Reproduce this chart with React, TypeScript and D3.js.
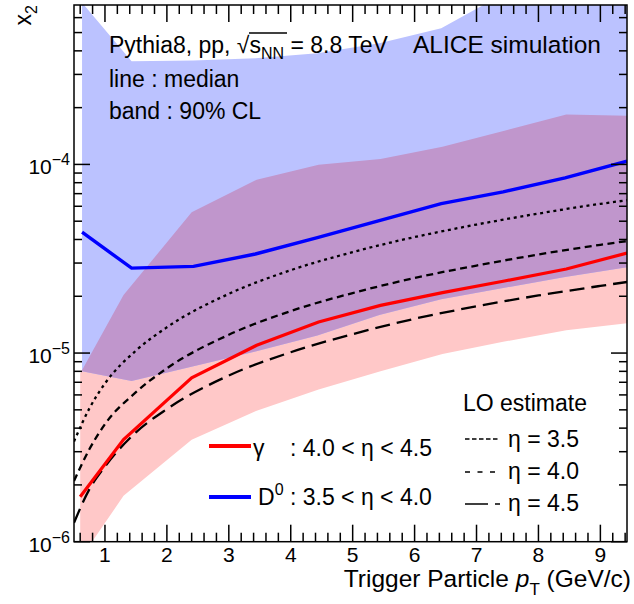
import React from "react";
import * as d3 from "d3";

// gamma (4.0 < eta < 4.5): median and 90% CL band
const GAMMA_PT = [0.6, 1.3, 2.4, 3.45, 4.45, 5.45, 6.45, 7.45, 8.45, 9.43];
const GAMMA_MED = [1.73e-6, 3.48e-6, 7.4e-6, 1.1e-5, 1.46e-5, 1.79e-5, 2.09e-5, 2.41e-5, 2.79e-5, 3.39e-5];
const GAMMA_LO = [8.1e-7, 1.75e-6, 3.47e-6, 4.95e-6, 6.4e-6, 8.0e-6, 9.9e-6, 1.15e-5, 1.32e-5, 1.44e-5];
const GAMMA_HI = [7.8e-6, 2.03e-5, 5.57e-5, 8.3e-5, 9.95e-5, 1.07e-4, 1.24e-4, 1.51e-4, 1.84e-4, 1.81e-4];

// D0 (3.5 < eta < 4.0)
const D0_PT = [0.63, 1.43, 2.43, 3.43, 4.43, 5.43, 6.43, 7.43, 8.43, 9.43];
const D0_MED = [4.37e-5, 2.82e-5, 2.88e-5, 3.35e-5, 4.09e-5, 5.04e-5, 6.2e-5, 7.15e-5, 8.49e-5, 1.04e-4];
const D0_LO = [8.0e-6, 7.1e-6, 8.5e-6, 1.02e-5, 1.24e-5, 1.59e-5, 1.93e-5, 2.21e-5, 2.53e-5, 2.85e-5];
const D0_HI = [7.2e-4, 3.52e-4, 3.56e-4, 3.65e-4, 3.88e-4, 4.39e-4, 5.27e-4, 8.0e-4, 1.0e-3, 1.0e-3];

// LO estimate curves
const LO_PT = [0.5, 0.75, 1, 1.5, 2, 3, 4, 5, 6, 7, 8, 9, 9.5];
const LO_ETA35 = [3.4e-6, 5.1e-6, 6.9e-6, 1.03e-5, 1.37e-5, 2.06e-5, 2.75e-5, 3.43e-5, 4.12e-5, 4.8e-5, 5.49e-5, 6.18e-5, 6.5e-5];
const LO_ETA40 = [2.1e-6, 3.1e-6, 4.2e-6, 6.2e-6, 8.3e-6, 1.25e-5, 1.67e-5, 2.08e-5, 2.5e-5, 2.91e-5, 3.33e-5, 3.75e-5, 3.95e-5];
const LO_ETA45 = [1.26e-6, 1.9e-6, 2.5e-6, 3.8e-6, 5.05e-6, 7.6e-6, 1.01e-5, 1.26e-5, 1.52e-5, 1.77e-5, 2.02e-5, 2.27e-5, 2.4e-5];

const X_TICKS = [1, 2, 3, 4, 5, 6, 7, 8, 9];
const Y_TICKS = [1e-6, 1e-5, 1e-4];
const Y_EXP = ["\u22126", "\u22125", "\u22124"];

const FONT = "'Liberation Sans', Arial, Helvetica, sans-serif";
const BLUE_BAND = "#bbc2ff";
const RED_BAND = "#ffc8c8";
const OVERLAP = "#c096cc";

const L = 74, R = 627, T = 5, B = 541.7;

const App = () => {
  const x = d3.scaleLinear().domain([0.5, 9.43]).range([L, R]);
  const y = d3.scaleLog().domain([1e-6, 7e-4]).range([B, T]);

  const band = (pt: number[], lo: number[], hi: number[]) =>
    d3
      .area<number>()
      .x((_, i) => x(pt[i]))
      .y0((_, i) => y(lo[i]))
      .y1((_, i) => y(hi[i]))(pt) as string;

  const line = (pt: number[], v: number[]) =>
    d3
      .line<number>()
      .x((_, i) => x(pt[i]))
      .y((_, i) => y(v[i]))(pt) as string;

  const smooth = (pt: number[], v: number[]) =>
    d3
      .line<number>()
      .x((_, i) => x(pt[i]))
      .y((_, i) => y(v[i]))
      .curve(d3.curveMonotoneX)(pt) as string;

  const gammaBand = band(GAMMA_PT, GAMMA_LO, GAMMA_HI);
  const d0Band = band(D0_PT, D0_LO, D0_HI);

  // minor ticks
  const xMinor: number[] = [];
  for (let v = 0.6; v < 9.43; v += 0.2) {
    const r = Math.round(v * 10) / 10;
    if (Math.abs(r - Math.round(r)) > 1e-6) xMinor.push(r);
  }
  const yMinor: number[] = [];
  for (let e = -6; e <= -4; e++) {
    for (let k = 2; k <= 9; k++) {
      const v = k * Math.pow(10, e);
      if (v < 7e-4) yMinor.push(v);
    }
  }

  return (
    <svg width={634} height={604} style={{ display: "block", position: "absolute", left: 0, top: 0 }}>
      <rect width={634} height={604} fill="#fff" />
      <defs>
        <clipPath id="plot">
          <rect x={L} y={T} width={R - L} height={B - T} />
        </clipPath>
        <clipPath id="d0band">
          <path d={d0Band} />
        </clipPath>
      </defs>

      <g clipPath="url(#plot)">
        <path d={gammaBand} fill={RED_BAND} />
        <path d={d0Band} fill={BLUE_BAND} />
        <g clipPath="url(#d0band)">
          <path d={gammaBand} fill={OVERLAP} />
        </g>

        <path d={smooth(LO_PT, LO_ETA35)} fill="none" stroke="#000" strokeWidth={2.3} strokeDasharray="3 3.7" />
        <path d={smooth(LO_PT, LO_ETA40)} fill="none" stroke="#000" strokeWidth={2.3} strokeDasharray="7 4.5" />
        <path d={smooth(LO_PT, LO_ETA45)} fill="none" stroke="#000" strokeWidth={2.3} strokeDasharray="15 7" />

        <path d={line(GAMMA_PT, GAMMA_MED)} fill="none" stroke="#ff0000" strokeWidth={3.2} />
        <path d={line(D0_PT, D0_MED)} fill="none" stroke="#0000ff" strokeWidth={3.4} />
      </g>

      {/* frame and ticks */}
      <g stroke="#000" strokeWidth={1.5}>
        <rect x={L} y={T} width={R - L} height={B - T} fill="none" />
        {X_TICKS.map((t) => (
          <g key={"xt" + t}>
            <line x1={x(t)} x2={x(t)} y1={B} y2={B - 17} />
            <line x1={x(t)} x2={x(t)} y1={T} y2={T + 17} />
          </g>
        ))}
        {xMinor.map((t) => (
          <g key={"xm" + t}>
            <line x1={x(t)} x2={x(t)} y1={B} y2={B - 9} />
            <line x1={x(t)} x2={x(t)} y1={T} y2={T + 9} />
          </g>
        ))}
        {Y_TICKS.map((t) => (
          <g key={"yt" + t}>
            <line x1={L} x2={L + 16} y1={y(t)} y2={y(t)} />
            <line x1={R} x2={R - 16} y1={y(t)} y2={y(t)} />
          </g>
        ))}
        {yMinor.map((t) => (
          <g key={"ym" + t}>
            <line x1={L} x2={L + 8} y1={y(t)} y2={y(t)} />
            <line x1={R} x2={R - 8} y1={y(t)} y2={y(t)} />
          </g>
        ))}
      </g>

      <g fontFamily={FONT} fill="#000">
        {X_TICKS.map((t) => (
          <text key={"xl" + t} x={x(t)} y={562} fontSize={21} textAnchor="middle">
            {t}
          </text>
        ))}
        {Y_TICKS.map((t, i) => (
          <text key={"yl" + t} x={70} y={y(t) + 10} fontSize={21} textAnchor="end">
            10
            <tspan fontSize={16} dy={-9}>
              {Y_EXP[i]}
            </tspan>
          </text>
        ))}

        <text x={631} y={587} fontSize={24.5} textAnchor="end">
          Trigger Particle{" "}
          <tspan fontStyle="italic">p</tspan>
          <tspan fontSize={17} dy={8}>
            T
          </tspan>
          <tspan dy={-8}> (GeV/c)</tspan>
        </text>

        <text transform={`translate(31, ${T}) rotate(-90)`} fontSize={23} textAnchor="end">
          x<tspan fontSize={16} dy={6}>2</tspan>
        </text>

        <text x={109} y={53} fontSize={23}>
          Pythia8, pp, √s
          <tspan fontSize={16} dy={6}>
            NN
          </tspan>
          <tspan dy={-6}> = 8.8 TeV</tspan>
        </text>
        <line x1={249} x2={287} y1={33} y2={33} stroke="#000" strokeWidth={1.3} />
        <text x={413} y={53} fontSize={24.5}>
          ALICE simulation
        </text>
        <text x={109} y={87} fontSize={23}>
          line : median
        </text>
        <text x={109} y={119} fontSize={23}>
          band : 90% CL
        </text>

        {/* median legend */}
        <line x1={209} x2={251} y1={446} y2={446} stroke="#ff0000" strokeWidth={4} />
        <line x1={209} x2={251} y1={497} y2={497} stroke="#0000ff" strokeWidth={4} />
        <text x={253} y={456} fontSize={23}>
          γ
        </text>
        <text x={290} y={456} fontSize={23}>
          : 4.0 &lt; η &lt; 4.5
        </text>
        <text x={258} y={505} fontSize={23}>
          D<tspan fontSize={16} dy={-10}>0</tspan>
          <tspan dy={10}> : 3.5 &lt; η &lt; 4.0</tspan>
        </text>

        {/* LO legend */}
        <text x={463} y={411} fontSize={23}>
          LO estimate
        </text>
        <line x1={465} x2={499} y1={439} y2={439} stroke="#000" strokeWidth={1.3} strokeDasharray="4.5 2.5" />
        <line x1={465} x2={499} y1={472} y2={472} stroke="#000" strokeWidth={1.3} strokeDasharray="5 7.5" />
        <line x1={465} x2={500} y1={504} y2={504} stroke="#000" strokeWidth={1.3} strokeDasharray="23 7 5 100" />
        <text x={508} y={447} fontSize={23}>
          η = 3.5
        </text>
        <text x={508} y={479} fontSize={23}>
          η = 4.0
        </text>
        <text x={508} y={511} fontSize={23}>
          η = 4.5
        </text>
      </g>
    </svg>
  );
};

export default App;
